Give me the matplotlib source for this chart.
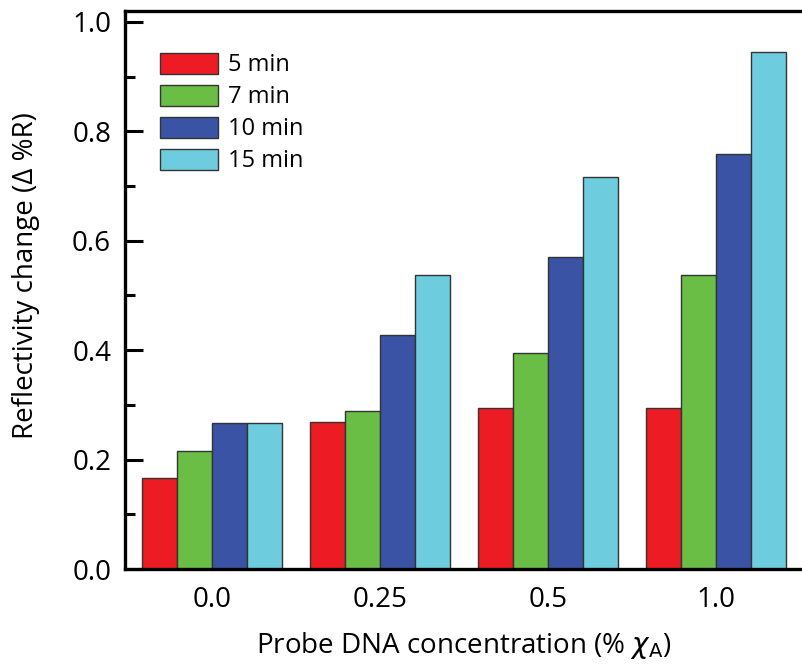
import matplotlib
matplotlib.use("Agg")
import matplotlib.pyplot as plt
import numpy as np
from matplotlib.ticker import MultipleLocator

plt.rcParams['font.family'] = ['Open Sans', 'DejaVu Sans']

groups = ["0.0", "0.25", "0.5", "1.0"]
series = ["5 min", "7 min", "10 min", "15 min"]
v5 = [0.167, 0.269, 0.295, 0.295]
v7 = [0.216, 0.289, 0.394, 0.538]
v10 = [0.267, 0.427, 0.571, 0.758]
v15 = [0.266, 0.537, 0.716, 0.945]
colors = ["#ED1C24", "#6BBE45", "#3A53A4", "#6DCDDF"]

fig = plt.figure(figsize=(8.03, 6.67), dpi=100)
ax = fig.add_axes([0.1557, 0.1469, 0.8443, 0.8366])

x = np.arange(len(groups))
w = 0.207
for i, (vals, c, lab) in enumerate(zip([v5, v7, v10, v15], colors, series)):
    ax.bar(x + (i - 1.5) * w, vals, width=w, color=c, edgecolor="#333333",
           linewidth=1.0, label=lab)

ax.set_xlim(-0.518, 3.518)
ax.set_ylim(0, 1.02)
ax.set_xticks(x)
ax.set_xticklabels(groups)
ax.yaxis.set_major_locator(MultipleLocator(0.2))
ax.yaxis.set_minor_locator(MultipleLocator(0.1))
ax.yaxis.set_major_formatter(matplotlib.ticker.FormatStrFormatter('%.1f'))
ax.tick_params(axis='x', length=0, labelsize=20, pad=12)
ax.tick_params(axis='y', which='major', direction='in', length=13, width=2.2, labelsize=20, pad=10)
ax.tick_params(axis='y', which='minor', direction='in', length=7, width=2.2)

for s in ['left', 'bottom', 'top']:
    ax.spines[s].set_linewidth(2.4)
ax.spines['right'].set_visible(False)

ax.set_ylabel("Reflectivity change (Δ %R)", fontsize=20)
ax.yaxis.set_label_coords(-0.126, 0.526)
ax.set_xlabel("Probe DNA concentration (% $\\chi_{\\mathrm{A}}$)", fontsize=20, labelpad=12)

ax.legend(loc='upper left', bbox_to_anchor=(0.038, 0.942), frameon=False, fontsize=17,
          handlelength=2.45, handleheight=1.0, labelspacing=0.31, handletextpad=0.42,
          borderaxespad=0)

fig.savefig("out.png", dpi=100)
